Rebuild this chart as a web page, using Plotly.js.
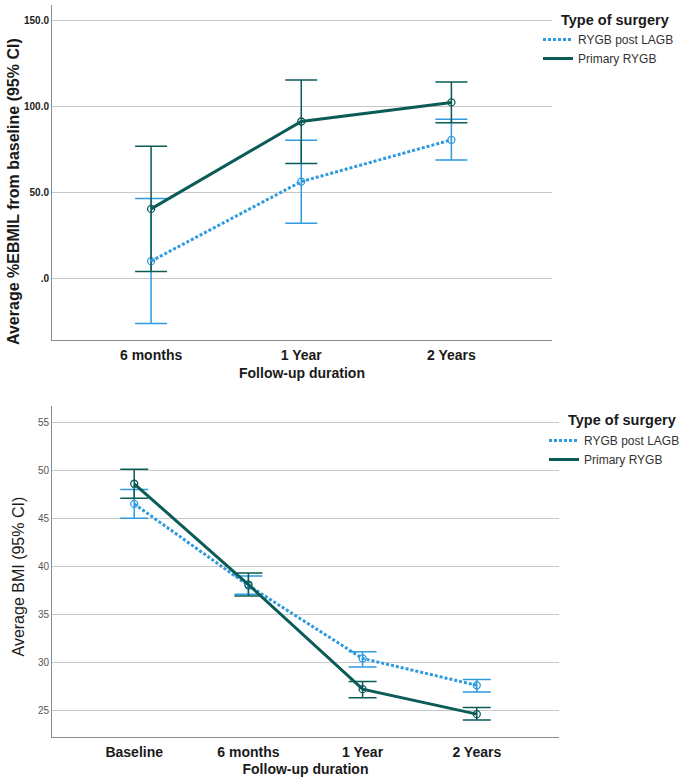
<!DOCTYPE html>
<html>
<head>
<meta charset="utf-8">
<script src="https://cdn.plot.ly/plotly-3.0.1.min.js"></script>
<style>html,body{margin:0;padding:0;background:#fff;}#chart{width:685px;height:781px;}</style>
</head>
<body>
<div id="chart"></div>
<script>
// ---- Top chart: %EBMIL from baseline ----
const stagesTop = ["6 months", "1 Year", "2 Years"];
const lagbTopMean = [9.9, 56.2, 80.5];
const lagbTopLow  = [-26.4, 31.9, 68.8];
const lagbTopHigh = [46.3, 80.3, 92.5];
const primTopMean = [40.3, 91.2, 102.3];
const primTopLow  = [3.9, 66.7, 90.4];
const primTopHigh = [76.8, 115.3, 114.2];
const topTickVals = [0, 50, 100, 150];
const topTickText = [".0", "50.0", "100.0", "150.0"];

// ---- Bottom chart: BMI ----
const stagesBot = ["Baseline", "6 months", "1 Year", "2 Years"];
const lagbBotMean = [46.5, 38.0, 30.4, 27.6];
const lagbBotLow  = [45.0, 37.1, 29.5, 26.9];
const lagbBotHigh = [48.0, 39.0, 31.1, 28.2];
const primBotMean = [48.6, 38.1, 27.2, 24.6];
const primBotLow  = [47.1, 36.9, 26.3, 24.0];
const primBotHigh = [50.1, 39.3, 28.0, 25.3];
const botTickVals = [25, 30, 35, 40, 45, 50, 55];

const seriesNames = ["RYGB post LAGB", "Primary RYGB"];
const legendTitle = "Type of surgery";

const BLUE = "#2e9ae0";
const TEAL = "#0b5b57";
const FONT = "Liberation Sans, Arial, sans-serif";

function plus(hi, m) { return hi.map((v, i) => v - m[i]); }
function minus(lo, m) { return m.map((v, i) => v - lo[i]); }

function lineTrace(x, y, name, color, dash, xa, ya, legend) {
  return {
    x: x, y: y, name: name, type: "scatter", mode: "lines",
    xaxis: xa, yaxis: ya, legend: legend,
    line: {color: color, width: 3, dash: dash},
    hoverinfo: "skip"
  };
}
function markTrace(x, y, lo, hi, color, xa, ya, capw) {
  return {
    x: x, y: y, type: "scatter", mode: "markers", showlegend: false,
    xaxis: xa, yaxis: ya,
    marker: {symbol: "circle-open", size: 7, color: color, line: {width: 1.3, color: color}},
    error_y: {type: "data", array: plus(hi, y), arrayminus: minus(lo, y),
              color: color, thickness: 1.5, width: capw, visible: true}
  };
}

const data = [
  markTrace(stagesTop, lagbTopMean, lagbTopLow, lagbTopHigh, BLUE, "x", "y", 16),
  markTrace(stagesTop, primTopMean, primTopLow, primTopHigh, TEAL, "x", "y", 16),
  lineTrace(stagesTop, lagbTopMean, seriesNames[0], BLUE, "3px,2px", "x", "y", "legend"),
  lineTrace(stagesTop, primTopMean, seriesNames[1], TEAL, "solid", "x", "y", "legend"),
  markTrace(stagesBot, lagbBotMean, lagbBotLow, lagbBotHigh, BLUE, "x2", "y2", 14),
  markTrace(stagesBot, primBotMean, primBotLow, primBotHigh, TEAL, "x2", "y2", 14),
  lineTrace(stagesBot, lagbBotMean, seriesNames[0], BLUE, "3px,2px", "x2", "y2", "legend2"),
  lineTrace(stagesBot, primBotMean, seriesNames[1], TEAL, "solid", "x2", "y2", "legend2")
];

const W = 685, H = 781;
const px = v => v / W;
const py = v => 1 - v / H;

const boldTick = {family: FONT, size: 14, color: "#1a1a1a", weight: "bold"};
const titleFont = {family: FONT, size: 14, color: "#1a1a1a", weight: "bold"};

const layout = {
  width: W, height: H, autosize: false,
  margin: {l: 0, r: 0, t: 0, b: 0, autoexpand: false},
  paper_bgcolor: "#ffffff", plot_bgcolor: "#ffffff",
  font: {family: FONT, color: "#1a1a1a"},
  xaxis: {
    type: "category", domain: [px(52), px(552)], anchor: "y",
    range: [-0.66, 2.67], showline: true, linecolor: "#8c8c8c", linewidth: 1,
    showgrid: false, ticks: "", tickfont: boldTick, automargin: false,
    ticklabelstandoff: 2,
    title: {text: "Follow-up duration", font: titleFont, standoff: 6}
  },
  yaxis: {
    domain: [py(340), py(5)], anchor: "x",
    range: [-36, 159], tickvals: topTickVals, ticktext: topTickText,
    showline: true, linecolor: "#8c8c8c", linewidth: 1,
    showgrid: true, gridcolor: "#c8c8c8", gridwidth: 1, zeroline: false,
    ticks: "", automargin: false,
    tickfont: {family: FONT, size: 10, color: "#222", weight: "bold"}
  },
  xaxis2: {
    type: "category", domain: [px(52), px(559)], anchor: "y2",
    range: [-0.72, 3.72], showline: true, linecolor: "#8c8c8c", linewidth: 1,
    showgrid: false, ticks: "", tickfont: boldTick, automargin: false,
    ticklabelstandoff: 2,
    title: {text: "Follow-up duration", font: titleFont, standoff: 5}
  },
  yaxis2: {
    domain: [py(736.7), py(406)], anchor: "x2",
    range: [22.25, 56.7], tickvals: botTickVals,
    showline: true, linecolor: "#8c8c8c", linewidth: 1,
    showgrid: true, gridcolor: "#c8c8c8", gridwidth: 1, zeroline: false,
    ticks: "", automargin: false,
    tickfont: {family: FONT, size: 10, color: "#555"}
  },
  legend: {
    x: px(538), y: py(25), xanchor: "left", yanchor: "top",
    bgcolor: "rgba(0,0,0,0)", itemwidth: 30, tracegroupgap: 0,
    font: {family: FONT, size: 12, color: "#333"}
  },
  legend2: {
    x: px(544), y: py(426), xanchor: "left", yanchor: "top",
    bgcolor: "rgba(0,0,0,0)", itemwidth: 30, tracegroupgap: 0,
    font: {family: FONT, size: 12, color: "#333"}
  },
  annotations: [
    {text: legendTitle, x: px(559), y: py(20), xref: "paper", yref: "paper",
     showarrow: false, xanchor: "left", yanchor: "middle",
     font: {family: FONT, size: 14.5, color: "#1a1a1a", weight: "bold"}},
    {text: legendTitle, x: px(566), y: py(420), xref: "paper", yref: "paper",
     showarrow: false, xanchor: "left", yanchor: "middle",
     font: {family: FONT, size: 14.5, color: "#1a1a1a", weight: "bold"}},
    {text: "Average %EBMIL from baseline (95% CI)", textangle: -90,
     x: px(14), y: py(192), xref: "paper", yref: "paper", showarrow: false,
     xanchor: "center", yanchor: "middle",
     font: {family: FONT, size: 16, color: "#1a1a1a", weight: "bold"}},
    {text: "Average BMI (95% CI)", textangle: -90,
     x: px(17.5), y: py(577), xref: "paper", yref: "paper", showarrow: false,
     xanchor: "center", yanchor: "middle",
     font: {family: FONT, size: 16, color: "#1a1a1a"}}
  ]
};

Plotly.newPlot("chart", data, layout, {displayModeBar: false, staticPlot: true});
</script>
</body>
</html>
